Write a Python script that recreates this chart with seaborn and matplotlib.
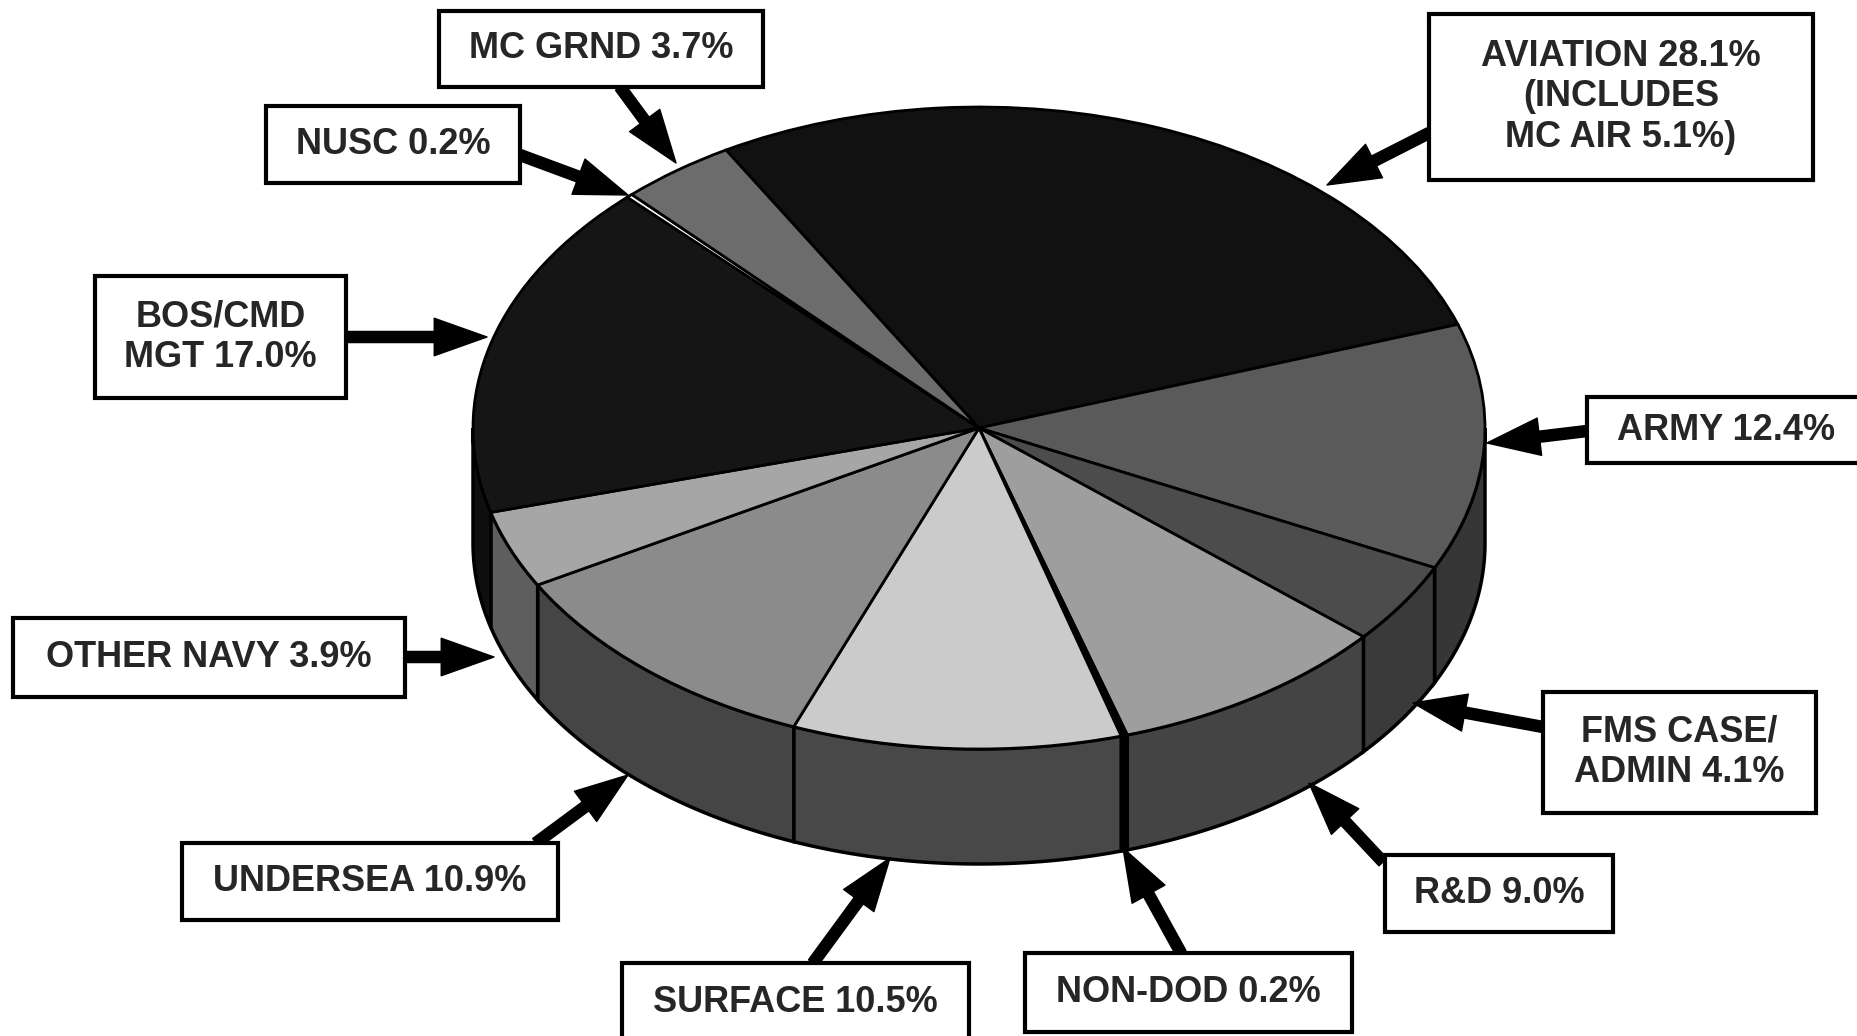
import numpy as np
import matplotlib
matplotlib.use("Agg")
import matplotlib.pyplot as plt
from matplotlib.patches import Rectangle
import seaborn as sns

# slices, clockwise starting at the upper-left edge of AVIATION
names = ["AVIATION", "ARMY", "FMS CASE/\nADMIN", "R&D", "NON-DOD", "SURFACE",
         "UNDERSEA", "OTHER NAVY", "BOS/CMD\nMGT", "NUSC", "MC GRND"]
shares = [28.1, 12.4, 4.1, 9.0, 0.2, 10.5, 10.9, 3.9, 17.0, 0.2, 3.7]
notes = {"AVIATION": "\n(INCLUDES\nMC AIR 5.1%)"}

# grey shades of the top faces and of the side walls
top_colors = ["#111111", "#5a5a5a", "#4c4c4c", "#9e9e9e", "#000000", "#cbcbcb",
              "#8b8b8b", "#a6a6a6", "#151515", "#ffffff", "#6c6c6c"]
side_colors = ["#111111", "#363636", "#3a3a3a", "#444444", "#000000", "#484848",
               "#454545", "#5e5e5e", "#0f0f0f", "#ffffff", "#444444"]

# label boxes (x0, y0, x1, y1) and arrows (start, tip), in image pixels from top-left
boxes = [(1429, 14, 1813, 180), (1587, 397, 1866, 463), (1543, 692, 1816, 813),
         (1385, 855, 1613, 932), (1025, 953, 1352, 1032), (622, 963, 969, 1042),
         (182, 843, 558, 920), (13, 618, 405, 697), (95, 276, 346, 398),
         (266, 106, 520, 183), (439, 11, 763, 87)]
arrows = [((1429, 133), (1327, 185)), ((1587, 431), (1487, 443)),
          ((1543, 727), (1413, 703)), ((1383, 862), (1309, 783)),
          ((1181, 953), (1123, 848)), ((813, 963), (890, 858)),
          ((536, 843), (628, 775)), ((405, 657), (494, 657)),
          ((346, 337), (487, 337)), ((520, 155), (628, 195)),
          ((620, 87), (676, 163))]

W, H = 1857, 1036
CX, CY, RX, RY = 979, 428, 506, 321   # pie centre and ellipse radii in pixels
DEPTH = 115 / RY                      # wall height in unit-circle units

sns.set_theme(style="white")
plt.rcParams["font.family"] = ["Liberation Sans", "DejaVu Sans"]

fig = plt.figure(figsize=(W / 100, H / 100), dpi=100)
fig.patch.set_facecolor("white")

# pie in unit-circle coords, squashed into an ellipse by the axis limits
ax = fig.add_axes([0, 0, 1, 1])
wedges, _ = ax.pie(shares, colors=top_colors, startangle=120, counterclock=False,
                   radius=1, center=(0, 0), frame=True,
                   wedgeprops=dict(edgecolor="black", linewidth=2))
for w in wedges:
    w.set_zorder(3)

# front walls: the part of each wedge facing the viewer (angles -180..0)
for w, c in zip(wedges, side_colors):
    lo, hi = max(w.theta1, -180), min(w.theta2, 0)
    if hi <= lo:
        continue
    t = np.radians(np.linspace(lo, hi, 80))
    xs = np.concatenate([np.cos(t), np.cos(t[::-1])])
    ys = np.concatenate([np.sin(t), np.sin(t[::-1]) - DEPTH])
    ax.fill(xs, ys, facecolor=c, edgecolor="black", linewidth=2.5, zorder=1)

ax.set_aspect("auto")
ax.set_xlim((0 - CX) / RX, (W - CX) / RX)
ax.set_ylim((CY - H) / RY, CY / RY)
ax.axis("off")

# labels overlay in pixel coords
ax2 = fig.add_axes([0, 0, 1, 1])
ax2.set_xlim(0, W)
ax2.set_ylim(H, 0)
ax2.axis("off")

for name, val, (x0, y0, x1, y1), (start, tip) in zip(names, shares, boxes, arrows):
    ax2.annotate("", xy=tip, xytext=start,
                 arrowprops=dict(facecolor="black", edgecolor="black", width=8,
                                 headwidth=27, headlength=38, shrink=0))
    ax2.add_patch(Rectangle((x0, y0), x1 - x0, y1 - y0, facecolor="white",
                            edgecolor="black", linewidth=3, zorder=4))
    label = f"{name} {val:.1f}%" + notes.get(name, "")
    ax2.text((x0 + x1) / 2, (y0 + y1) / 2, label, ha="center", va="center",
             multialignment="center", fontsize=26, fontweight="bold", zorder=5)

fig.savefig("out.png", dpi=100, facecolor="white")
